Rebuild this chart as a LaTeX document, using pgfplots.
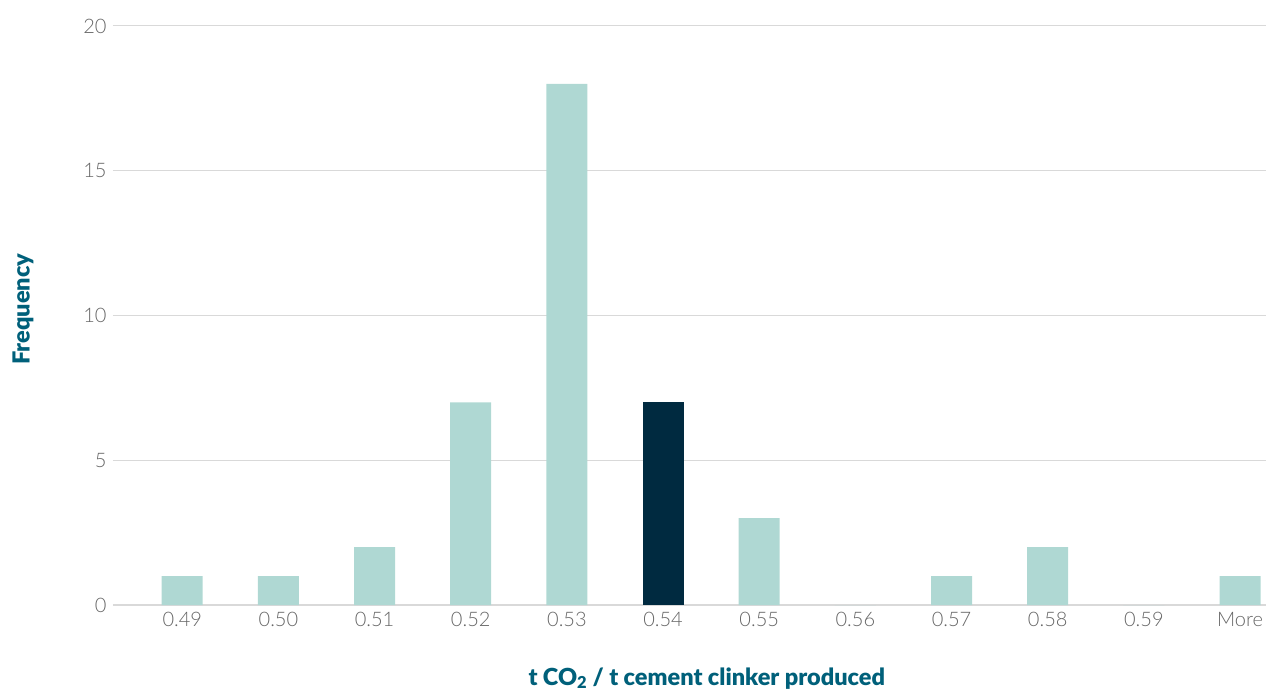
\documentclass[border=0pt]{standalone}
\usepackage{fontspec}
\setmainfont{Lato}[UprightFont=* Light, BoldFont=* Black]
\usepackage{pgfplots}
\pgfplotsset{compat=1.18}
\definecolor{barlight}{HTML}{AFD8D3}
\definecolor{bardark}{HTML}{002A40}
\definecolor{titleteal}{HTML}{00607A}
\definecolor{tickgray}{HTML}{666666}
\definecolor{gridgray}{HTML}{D9D9D9}
\begin{document}
\begin{tikzpicture}
\useasboundingbox (-113pt,-86pt) rectangle (1153pt,605pt);
\begin{axis}[
  at={(0pt,0pt)}, anchor=south west,
  scale only axis,
  width=1153pt, height=579pt,
  xmin=-0.72, xmax=11.27,
  ymin=0, ymax=20,
  ytick={0,5,10,15,20},
  xtick={0,...,11},
  xticklabels={0.49,0.50,0.51,0.52,0.53,0.54,0.55,0.56,0.57,0.58,0.59,More},
  /pgf/number format/assume math mode=true,
  tick label style={font=\fontsize{20}{23}\selectfont, text=tickgray},
  major tick length=0pt,
  ymajorgrids,
  grid style={gridgray, line width=1pt},
  axis line style={draw=none},
  axis x line*=bottom, axis y line*=left,
  xticklabel style={yshift=-4pt},
  yticklabel style={xshift=-3pt},
  clip=false,
  xlabel={\textbf{t CO\textsubscript{2} / t cement clinker produced}},
  xlabel style={font=\fontsize{23.5}{26}\selectfont, text=titleteal, at={(axis description cs:0.515,0)}, anchor=north, yshift=-59pt},
  ylabel={\textbf{Frequency}},
  ylabel style={font=\fontsize{23.5}{26}\selectfont, text=titleteal, at={(axis description cs:-0.0658,0.511)}, anchor=south},
]
\draw[gridgray, line width=1.5pt] (axis cs:-0.72,0) -- (axis cs:11.27,0);
\addplot[ybar, bar width=41pt, fill=barlight, draw=none] coordinates {
 (0,1) (1,1) (2,2) (3,7) (4,18) (6,3) (7,0) (8,1) (9,2) (10,0) (11,1)};
\addplot[ybar, bar width=41pt, fill=bardark, draw=none] coordinates {(5,7)};
\end{axis}
\end{tikzpicture}
\end{document}
